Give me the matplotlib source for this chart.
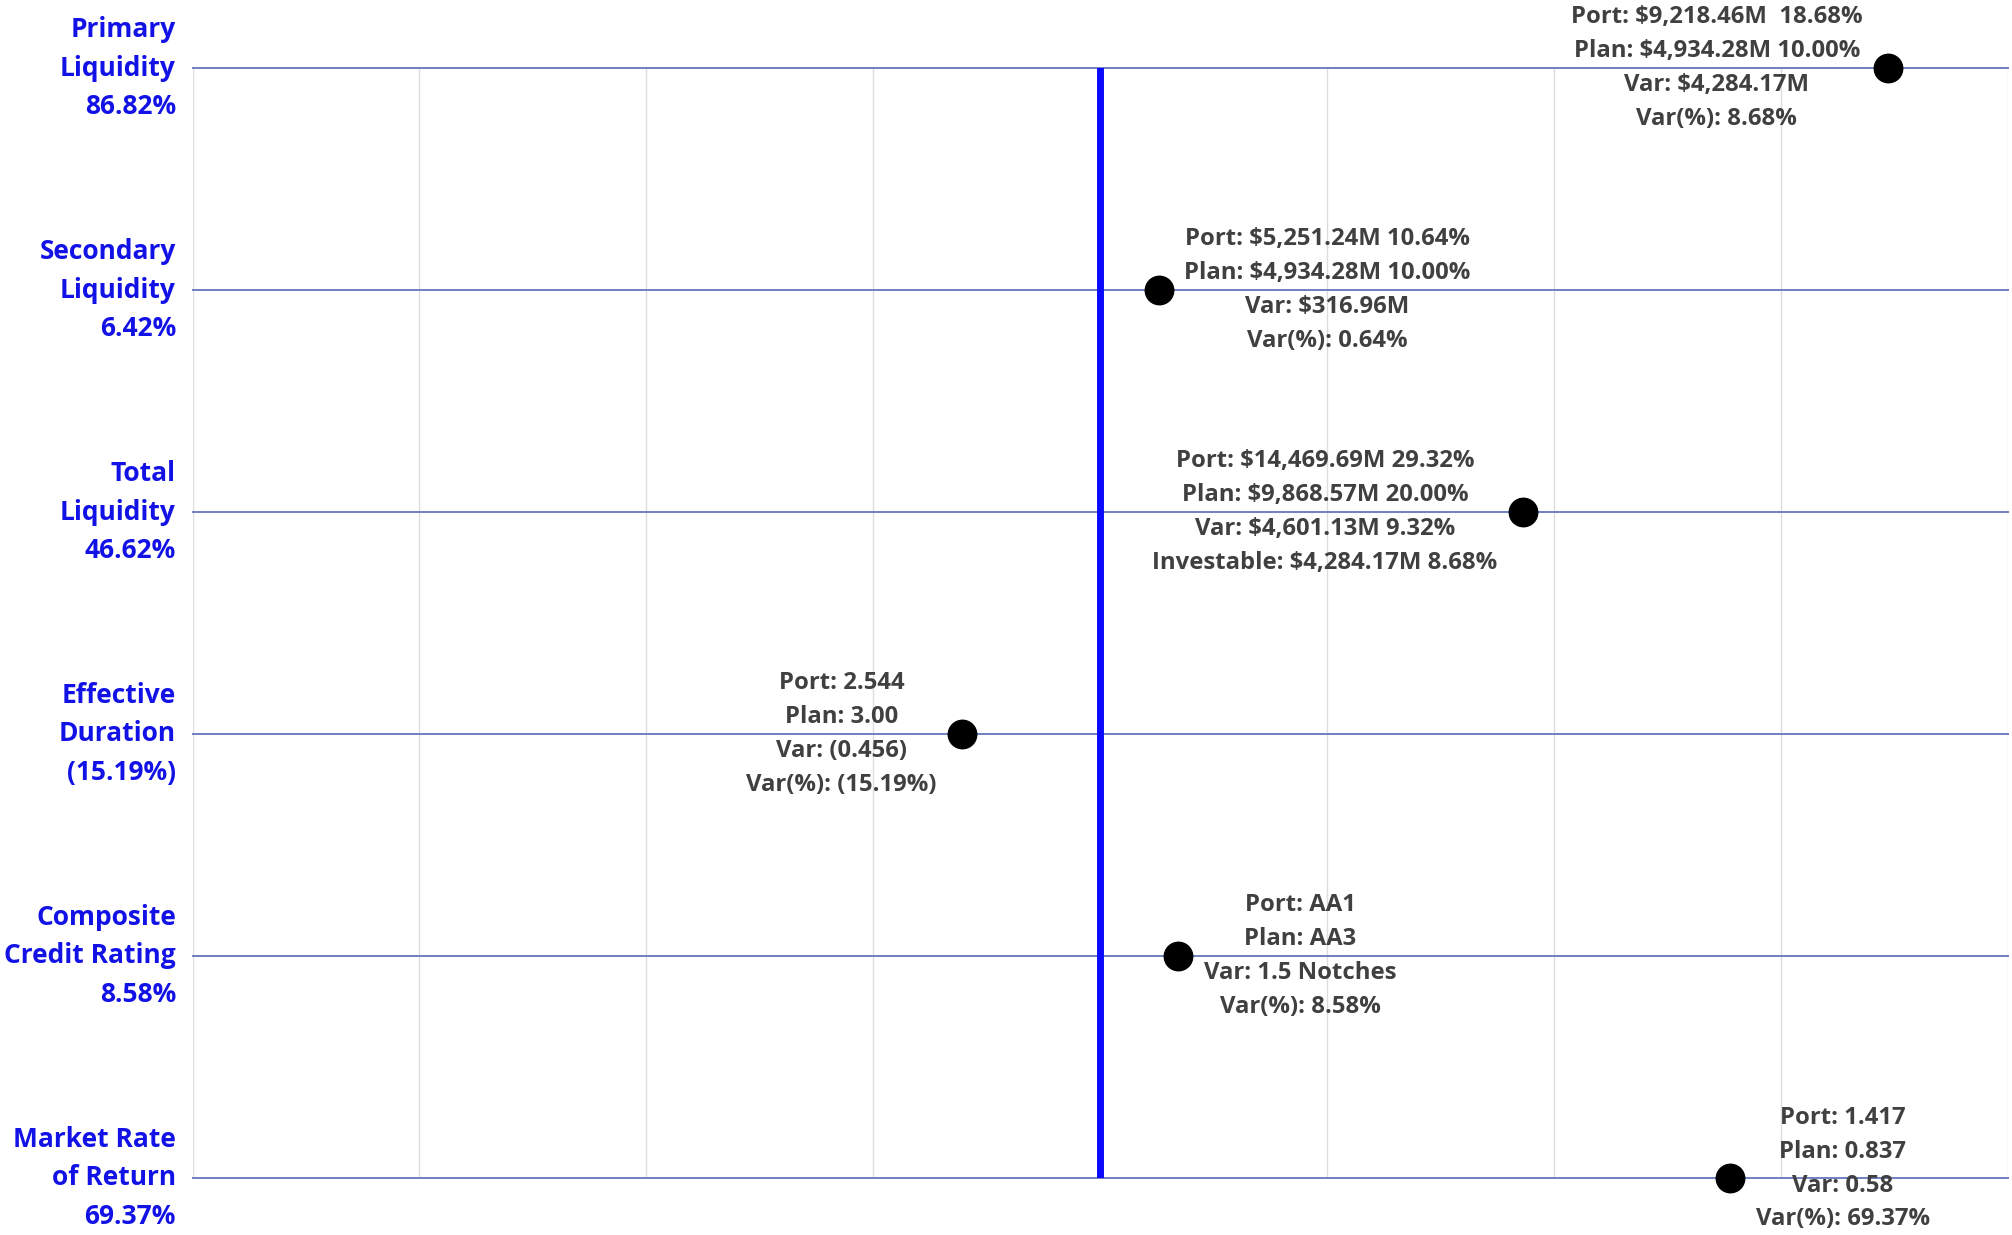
import matplotlib
matplotlib.use("Agg")
import matplotlib.pyplot as plt

plt.rcParams['font.family'] = ['Open Sans', 'DejaVu Sans']

categories = ["Primary\nLiquidity", "Secondary\nLiquidity", "Total\nLiquidity",
              "Effective\nDuration", "Composite\nCredit Rating", "Market Rate\nof Return"]
variance_pct = [86.82, 6.42, 46.62, -15.19, 8.58, 69.37]
variance_lbl = ["86.82%", "6.42%", "46.62%", "(15.19%)", "8.58%", "69.37%"]
details = [
    "Port: $9,218.46M  18.68%\nPlan: $4,934.28M 10.00%\nVar: $4,284.17M\nVar(%): 8.68%",
    "Port: $5,251.24M 10.64%\nPlan: $4,934.28M 10.00%\nVar: $316.96M\nVar(%): 0.64%",
    "Port: $14,469.69M 29.32%\nPlan: $9,868.57M 20.00%\nVar: $4,601.13M 9.32%\nInvestable: $4,284.17M 8.68%",
    "Port: 2.544\nPlan: 3.00\nVar: (0.456)\nVar(%): (15.19%)",
    "Port: AA1\nPlan: AA3\nVar: 1.5 Notches\nVar(%): 8.58%",
    "Port: 1.417\nPlan: 0.837\nVar: 0.58\nVar(%): 69.37%",
]
label_side = ["left", "right", "left", "left", "right", "right"]
label_dy = [0, 0, 0, 0, 0, 6.5]  # layout nudge (points) to keep text inside the figure

fig = plt.figure(figsize=(20.12, 12.35), dpi=100)
ax = fig.add_axes([0.0957, 0.0462, 0.998 - 0.0957, 0.9449 - 0.0462])

n = len(categories)
ys = [n - 1 - i for i in range(n)]

ax.set_xlim(-100, 100)
ax.set_ylim(0, n - 1)

for gx in range(-100, 101, 25):
    if gx != 0:
        ax.axvline(gx, color="#dcdce4", lw=1.0, zorder=1)
for y in ys:
    ax.axhline(y, color="#7080c0", lw=1.4, zorder=2, clip_on=False)
ax.axvline(0, color="#0a0aff", lw=5, zorder=3)

ax.scatter(variance_pct, ys, s=420, color="black", zorder=5, clip_on=False)

for x, y, txt, side, dy in zip(variance_pct, ys, details, label_side, label_dy):
    if side == "left":
        off, ha = -18.5, "right"
    else:
        off, ha = 18.5, "left"
    ax.annotate(txt, (x, y), xytext=(off, dy), textcoords="offset points",
                ha=ha, va="center", multialignment="center",
                fontsize=17.2, fontweight="bold", color="#404040",
                linespacing=1.54, zorder=6, annotation_clip=False)

for y, cat, lbl in zip(ys, categories, variance_lbl):
    ax.annotate(cat + "\n" + lbl, (0, y), xycoords=("axes fraction", "data"),
                xytext=(-12, 0), textcoords="offset points",
                ha="right", va="center", multialignment="right",
                fontsize=19, fontweight="bold", color="#1212e6",
                linespacing=1.53, annotation_clip=False)

ax.set_xticks([])
ax.set_yticks([])
for s in ax.spines.values():
    s.set_visible(False)

fig.savefig("out.png", dpi=100)
